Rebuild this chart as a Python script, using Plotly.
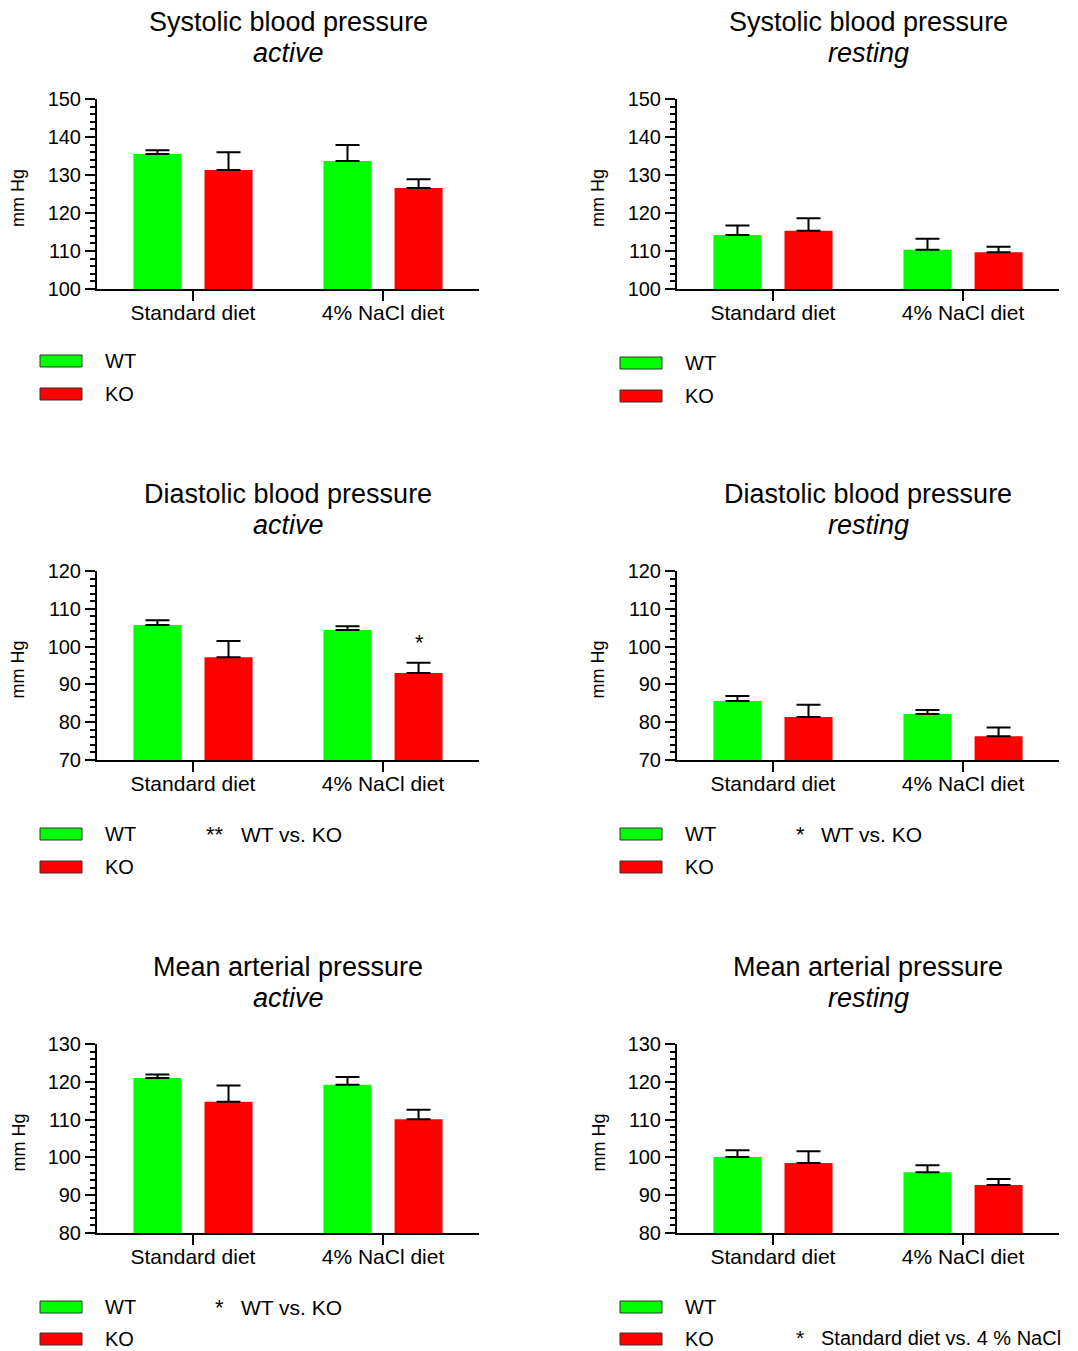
import plotly.graph_objects as go

# ---------------- data ----------------
categories = ["Standard diet", "4% NaCl diet"]

sbp_active_wt = [135.5, 133.7]
sbp_active_wt_sem = [1.0, 4.2]
sbp_active_ko = [131.3, 126.6]
sbp_active_ko_sem = [4.7, 2.3]

sbp_rest_wt = [114.2, 110.3]
sbp_rest_wt_sem = [2.5, 2.9]
sbp_rest_ko = [115.3, 109.7]
sbp_rest_ko_sem = [3.3, 1.4]

dbp_active_wt = [105.7, 104.4]
dbp_active_wt_sem = [1.3, 1.0]
dbp_active_ko = [97.2, 93.0]
dbp_active_ko_sem = [4.3, 2.7]

dbp_rest_wt = [85.6, 82.2]
dbp_rest_wt_sem = [1.3, 1.0]
dbp_rest_ko = [81.4, 76.3]
dbp_rest_ko_sem = [3.2, 2.3]

map_active_wt = [121.0, 119.2]
map_active_wt_sem = [0.9, 2.1]
map_active_ko = [114.7, 110.1]
map_active_ko_sem = [4.3, 2.5]

map_rest_wt = [100.1, 96.1]
map_rest_wt_sem = [1.8, 1.8]
map_rest_ko = [98.5, 92.7]
map_rest_ko_sem = [3.1, 1.6]

panel_titles = ["Systolic blood pressure", "Systolic blood pressure",
                "Diastolic blood pressure", "Diastolic blood pressure",
                "Mean arterial pressure", "Mean arterial pressure"]
panel_states = ["active", "resting", "active", "resting", "active", "resting"]
y_ranges = [[100, 150], [100, 150], [70, 120], [70, 120], [80, 130], [80, 130]]
series_names = ["WT", "KO"]
y_title = "mm Hg"

# ---------------- styling / layout ----------------
W, H = 1078, 1351
FONT = "Arial, Liberation Sans, sans-serif"
GREEN = "#00FF00"
RED = "#FF0000"

def px_x(x):
    return x / W

def px_y(y):
    return 1 - y / H

col_x = [(97, 479), (677, 1059)]
row_y = [(99, 289), (571, 760), (1044, 1233)]

panels = [
    (sbp_active_wt, sbp_active_wt_sem, sbp_active_ko, sbp_active_ko_sem),
    (sbp_rest_wt, sbp_rest_wt_sem, sbp_rest_ko, sbp_rest_ko_sem),
    (dbp_active_wt, dbp_active_wt_sem, dbp_active_ko, dbp_active_ko_sem),
    (dbp_rest_wt, dbp_rest_wt_sem, dbp_rest_ko, dbp_rest_ko_sem),
    (map_active_wt, map_active_wt_sem, map_active_ko, map_active_ko_sem),
    (map_rest_wt, map_rest_wt_sem, map_rest_ko, map_rest_ko_sem),
]

fig = go.Figure()
annotations = []
shapes = []

def text_at(x, y, text, size, anchor="left", angle=0):
    annotations.append(dict(
        x=px_x(x), y=px_y(y), xref="paper", yref="paper", text=text,
        textangle=angle, showarrow=False, xanchor=anchor, yanchor="middle",
        borderpad=0, font=dict(family=FONT, size=size, color="black"),
    ))

for i, (wt, wt_sem, ko, ko_sem) in enumerate(panels):
    n = i + 1
    r, c = divmod(i, 2)
    xs = "x" if n == 1 else f"x{n}"
    ys = "y" if n == 1 else f"y{n}"
    for name, vals, sem, color in ((series_names[0], wt, wt_sem, GREEN),
                                   (series_names[1], ko, ko_sem, RED)):
        fig.add_trace(go.Bar(
            x=categories, y=vals, name=name, xaxis=xs, yaxis=ys,
            marker=dict(color=color, line=dict(width=0)),
            showlegend=False,
            error_y=dict(type="data", symmetric=False, array=sem,
                         arrayminus=[0] * len(sem), color="black",
                         thickness=2, width=12),
        ))
    x0, x1 = col_x[c]
    y0, y1 = row_y[r]
    xaxis = dict(
        domain=[px_x(x0), px_x(x1)], anchor=ys, type="category",
        range=[-0.505, 1.505], showline=True, linecolor="black", linewidth=2,
        ticks="outside", ticklen=10, tickwidth=2, tickcolor="black",
        ticklabelstandoff=-6,
        tickfont=dict(family=FONT, size=21, color="black"),
        showgrid=False, zeroline=False, fixedrange=True, automargin=False,
    )
    yaxis = dict(
        domain=[px_y(y1), px_y(y0)], anchor=xs, range=y_ranges[i],
        dtick=10, tick0=0, showline=True, linecolor="black", linewidth=2,
        ticks="outside", ticklen=10, tickwidth=2, tickcolor="black",
        tickfont=dict(family=FONT, size=20, color="black"),
        minor=dict(dtick=2, ticks="outside", ticklen=5, tickwidth=2,
                   tickcolor="black", showgrid=False),
        showgrid=False, zeroline=False, fixedrange=True, automargin=False,
    )
    fig.layout[f"xaxis{'' if n == 1 else n}"] = xaxis
    fig.layout[f"yaxis{'' if n == 1 else n}"] = yaxis

    # panel title (two lines)
    cx = (x0 + x1) / 2
    text_at(cx, y0 - 77, panel_titles[i], 27, anchor="center")
    text_at(cx, y0 - 46, f"<i>{panel_states[i]}</i>", 27, anchor="center")
    # y axis title
    text_at(x0 - 79, (y0 + y1) / 2 + 4, y_title, 18, anchor="center", angle=-90)
    # legend swatches and labels
    lx = 40 if c == 0 else 620
    if r == 0:
        wy, ky = (361, 394) if c == 0 else (363, 396)
    elif r == 1:
        wy, ky = 834, 867
    else:
        wy, ky = 1307, 1339
    for cy, color, label in ((wy, GREEN, series_names[0]), (ky, RED, series_names[1])):
        shapes.append(dict(
            type="rect", xref="paper", yref="paper",
            x0=px_x(lx), x1=px_x(lx + 42), y0=px_y(cy + 6), y1=px_y(cy - 6),
            fillcolor=color, line=dict(color="#333333", width=1),
        ))
        text_at(lx + 64, cy, label, 20)

# significance notes
text_at(205, 834, "**", 22)
text_at(240, 834, "WT vs. KO", 21)
text_at(795, 834, "*", 22)
text_at(820, 834, "WT vs. KO", 21)
text_at(214, 1307, "*", 22)
text_at(240, 1307, "WT vs. KO", 21)
text_at(795, 1337, "*", 21)
text_at(820, 1338, "Standard diet vs. 4 % NaCl", 20)

# asterisk above KO 4% NaCl bar (diastolic active)
annotations.append(dict(
    x=1, y=dbp_active_ko[1] + dbp_active_ko_sem[1], xref="x3", yref="y3",
    text="*", showarrow=False, xanchor="center", yanchor="middle",
    xshift=36, yshift=20,
    font=dict(family=FONT, size=22, color="black"),
))

fig.update_layout(
    template="none",
    width=W, height=H, margin=dict(l=0, r=0, t=0, b=0, pad=0, autoexpand=False),
    paper_bgcolor="white", plot_bgcolor="white",
    barmode="group", bargap=0.252, bargroupgap=0.324,
    showlegend=False, annotations=annotations, shapes=shapes,
    font=dict(family=FONT, color="black"),
)

fig.write_html(
    "out.html",
    config={"displayModeBar": False, "staticPlot": True},
    post_script="document.body.style.margin='0';document.body.style.overflow='hidden';",
)
